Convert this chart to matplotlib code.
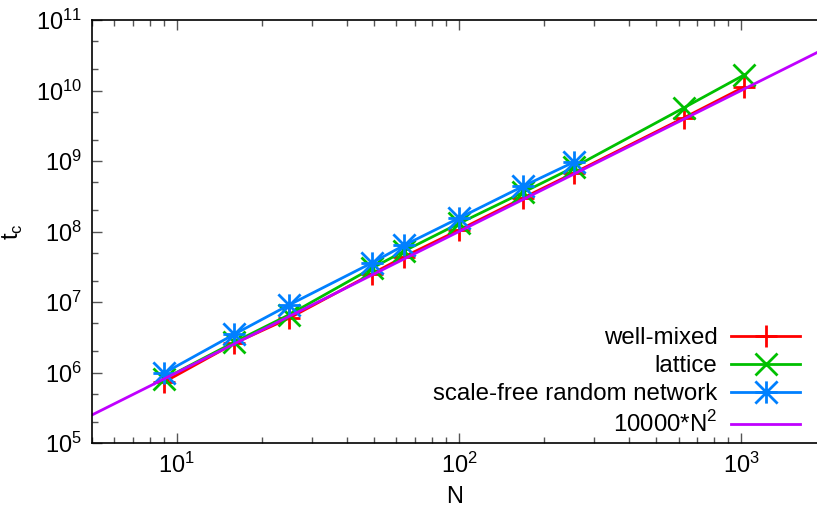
import matplotlib

matplotlib.use("Agg")
import matplotlib.pyplot as plt
import numpy as np
from matplotlib.path import Path
from matplotlib.ticker import LogLocator, NullFormatter

plt.rcParams["font.family"] = ["Liberation Sans", "DejaVu Sans"]
plt.rcParams["mathtext.fontset"] = "custom"
plt.rcParams["mathtext.rm"] = "Liberation Sans"

N = [9, 16, 25, 49, 64, 100, 169, 256, 625, 1024]
N_sf = [9, 16, 25, 49, 64, 100, 169, 256]
well_mixed = [7.3e5, 2.6e6, 5.9e6, 2.5e7, 4.4e7, 1.05e8, 3.0e8, 6.8e8, 4.07e9, 1.12e10]
lattice = [8.1e5, 2.7e6, 6.6e6, 3.0e7, 5.3e7, 1.3e8, 3.6e8, 8.2e8, 5.65e9, 1.66e10]
scale_free = [9.8e5, 3.5e6, 9.1e6, 3.57e7, 6.4e7, 1.55e8, 4.4e8, 9.7e8]
fit_coef = 10000
fit_exp = 2

# gnuplot style asterisk: plus and cross overlaid
star = Path(
    [(-1, 0), (1, 0), (0, -1), (0, 1), (-1, -1), (1, 1), (-1, 1), (1, -1)],
    [Path.MOVETO, Path.LINETO] * 4,
)

fig = plt.figure(figsize=(8.17, 5.15), dpi=100)
ax = fig.add_axes([92 / 817, 72 / 515, 1 - 92 / 817, 423 / 515])

xfit = np.array([5, 1900])
ax.plot(N, well_mixed, color="#ff0000", lw=2, marker="+", ms=16, mew=2, label="well-mixed")
ax.plot(N, lattice, color="#00c000", lw=2, marker="x", ms=16, mew=2, label="lattice")
ax.plot(N_sf, scale_free, color="#0080ff", lw=2, marker=star, ms=16, mew=2,
        label="scale-free random network")
ax.plot(xfit, fit_coef * xfit ** fit_exp, color="#c000ff", lw=2, label="10000*N$^2$")

ax.set_xscale("log")
ax.set_yscale("log")
ax.set_xlim(5, 1858)
ax.set_ylim(1e5, 1e11)
ax.spines["right"].set_visible(False)
for s in ax.spines.values():
    s.set_linewidth(1.2)

ax.xaxis.set_major_locator(LogLocator(base=10, numticks=10))
ax.xaxis.set_minor_locator(LogLocator(base=10, subs=np.arange(2, 10), numticks=10))
ax.yaxis.set_major_locator(LogLocator(base=10, numticks=10))
ax.yaxis.set_minor_locator(LogLocator(base=10, subs=[2, 5], numticks=10))
ax.xaxis.set_minor_formatter(NullFormatter())
ax.yaxis.set_minor_formatter(NullFormatter())
ax.tick_params(which="both", direction="in", top=True, right=False, color="#555555",
               labelsize=17, pad=7)
ax.tick_params(which="major", length=7, width=1)
ax.tick_params(which="minor", length=4, width=1)

ax.set_xlabel("N", fontsize=17, labelpad=6)
ax.set_ylabel("t$_\\mathrm{c}$", fontsize=17, labelpad=8)

leg = ax.legend(loc="lower right", bbox_to_anchor=(1 - 7 / 725, -4 / 423), frameon=False,
                fontsize=17.3, markerfirst=False, handlelength=2.9, handletextpad=0.55,
                labelspacing=0.25, borderaxespad=0.0)
for t in leg.get_texts():
    t.set_ha("right")

fig.savefig("out.png", dpi=100)
